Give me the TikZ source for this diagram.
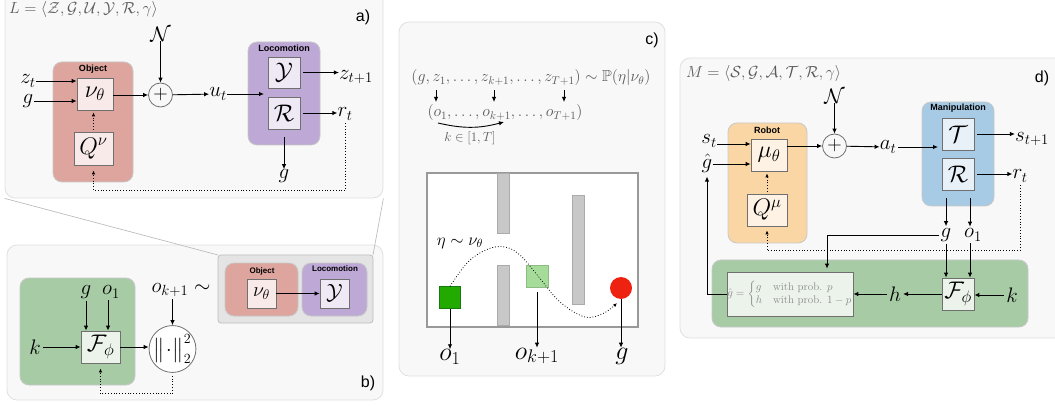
\RequirePackage{fix-cm}
\documentclass[tikz,border=0pt]{standalone}
\usepackage{amsmath,amssymb}
\usepackage{fontspec}
\newfontfamily\hvf{Liberation Sans}
\usetikzlibrary{arrows.meta,calc}
\newcommand\fsz[1]{\fontsize{#1}{#1}\selectfont}
\definecolor{panelbg}{HTML}{F8F8F8}
\definecolor{panelline}{HTML}{E0E0E0}
\definecolor{grpline}{HTML}{C8C8C8}
\definecolor{innerline}{HTML}{707070}
\definecolor{objfill}{HTML}{DDA59E}
\definecolor{objin}{HTML}{F7EAE8}
\definecolor{locofill}{HTML}{BEA8D5}
\definecolor{locoin}{HTML}{EEE9F5}
\definecolor{robfill}{HTML}{F9D6A3}
\definecolor{robin}{HTML}{FDF2E4}
\definecolor{manfill}{HTML}{A7CAE5}
\definecolor{manin}{HTML}{E9F1F8}
\definecolor{grnfill}{HTML}{A7CCA5}
\definecolor{grnin}{HTML}{EBF3EA}
\definecolor{insetbg}{HTML}{E4E4E4}
\definecolor{insetline}{HTML}{BDBDBD}
\definecolor{txtgray}{HTML}{5A5A5A}
\definecolor{roomline}{HTML}{999999}
\definecolor{wallfill}{HTML}{C8C8C8}
\definecolor{wallline}{HTML}{ABABAB}
\definecolor{dkgreen}{HTML}{22AA00}
\definecolor{dkgreenline}{HTML}{157A10}
\definecolor{ltgreen}{HTML}{A6DC9A}
\definecolor{redball}{HTML}{EE2211}
\begin{document}
\begin{tikzpicture}[x=1pt,y=-1pt,
  panel/.style={draw=panelline, fill=panelbg, rounded corners=10pt, line width=0.8pt, inner sep=0pt},
  grp/.style={draw=grpline, rounded corners=9pt, line width=0.8pt, inner sep=0pt},
  ibox/.style={draw=innerline, line width=0.8pt, inner sep=0pt},
  lab/.style={font=\fsz{21}, inner sep=0pt},
  blab/.style={font=\fsz{24}},
  gtitle/.style={font=\hvf\bfseries\fsz{9}, inner sep=0pt},
  ptag/.style={font=\hvf\fsz{16}, inner sep=0pt},
  ttl/.style={font=\fsz{16}, text=txtgray, inner sep=0pt},
  arr/.style={-{Latex[length=5pt,width=4.5pt]}, line width=0.9pt},
  darr/.style={dotted, -{Latex[length=4pt,width=3.5pt]}, line width=0.8pt},
  plus/.style={circle, draw=innerline, line width=0.8pt, minimum size=24pt, inner sep=0pt, font=\fsz{20}},
  zoomline/.style={draw=insetline, line width=0.7pt}
]
\useasboundingbox (0,0) rectangle (1055,406);

% ================= panel a =================
\node[panel, minimum width=378pt, minimum height=210pt] (pa) at (194,93) {};
\node[ttl, anchor=west] (La) at (9,10) {$L=\langle\mathcal{Z},\mathcal{G},\mathcal{U},\mathcal{Y},\mathcal{R},\gamma\rangle$};
\node[ptag] (atag) at (363,17) {a)};
\node[grp, fill=objfill, minimum width=80pt, minimum height=120pt] (obj) at (93,122) {};
\node[gtitle] (objt) at (93,69) {Object};
\node[ibox, fill=objin, minimum width=36pt, minimum height=32pt, blab] (nu) at (95,94) {$\nu_\theta$};
\node[ibox, fill=objin, minimum width=39pt, minimum height=33pt, blab] (Qnu) at (93.5,148.5) {$Q^\nu$};
\node[lab] (zt) at (28,81) {$z_t$};
\node[lab] (ga) at (28,101) {$g$};
\draw[arr] (zt.east) -- (zt.east -| nu.west);
\draw[arr] (ga.east) -- (ga.east -| nu.west);
\node[plus] (pla) at (160.5,95) {$+$};
\node[lab] (Na) at (160.5,34) {$\mathcal{N}$};
\draw[arr] (Na) -- (pla);
\draw[arr] (nu.east |- pla.west) -- (pla.west);
\node[lab] (ut) at (218,94) {$u_t$};
\draw[arr] (pla) -- (ut);
\node[grp, fill=locofill, minimum width=72pt, minimum height=103pt] (loco) at (284,93.5) {};
\node[gtitle] (locot) at (284,48) {Locomotion};
\node[ibox, fill=locoin, minimum width=32pt, minimum height=31pt, blab] (Ya) at (284,72.5) {$\mathcal{Y}$};
\node[ibox, fill=locoin, minimum width=32pt, minimum height=32pt, blab] (Ra) at (284,113) {$\mathcal{R}$};
\coordinate (lina) at (264,94);
\draw[arr] (ut.east) -- (lina);
\node[lab] (zt1) at (356,77) {$z_{t+1}$};
\draw[arr, shorten <=3pt] (Ya.east) -- (Ya.east -| zt1.west);
\node[lab] (rta) at (345,114) {$r_t$};
\draw[arr, shorten <=3pt] (Ra.east) -- (Ra.east -| rta.west);
\node[lab] (gla) at (284,176) {$g$};
\draw[arr, shorten <=8pt] (Ra.south) -- (gla.north);
\draw[darr, shorten >=5pt, shorten <=3pt] (rta.south) |- ($(Qnu.south)+(0,25)$) -- (Qnu.south);
\draw[darr, shorten <=2pt, shorten >=2pt] (Qnu.north) -- (Qnu.north |- nu.south);

% ================= panel b =================
\node[panel, minimum width=376pt, minimum height=155pt] (pb) at (195,322.5) {};
\draw[zoomline] (pa.south west) -- (218,255) coordinate (insnw);
\draw[zoomline] (pa.south east) -- (373,255) coordinate (insne);
\node[grp, fill=grnfill, minimum width=115pt, minimum height=107pt] (grb) at (77.5,331.5) {};
\node[ibox, fill=grnin, minimum width=39pt, minimum height=32pt, blab] (Fb) at (100.5,347) {$\mathcal{F}_\phi$};
\node[lab] (gb) at (86,292) {$g$};
\node[lab] (o1b) at (111,292) {$o_1$};
\draw[arr, shorten <=2pt] (gb.south) -- (gb.south |- Fb.north);
\draw[arr, shorten <=2pt] ([xshift=-3pt]o1b.south) -- ([xshift=-3pt]o1b.south |- Fb.north);
\node[lab] (kb) at (35,347) {$k$};
\draw[arr, shorten <=2pt] (kb.east) -- (Fb.west);
\node[circle, draw=innerline, line width=0.8pt, fill=white, minimum size=41pt, inner sep=0pt, font=\fsz{20}] (norm) at (172.5,349) {$\big\|\!\cdot\!\big\|_2^2$};
\node[lab] (okb) at (181,290) {$o_{k+1}\sim$};
\draw[arr, shorten <=2pt] (okb.south -| norm.north) -- (norm.north);
\draw[arr] (Fb.east) -- (Fb.east -| norm.west);
\draw[darr, shorten >=5pt, shorten <=3pt] (norm.south) |- ($(Fb.south)+(0,30)$) -- (Fb.south);
\node[ptag] (btag) at (368,383) {b)};

% inset
\node[draw=insetline, fill=insetbg, line width=0.7pt, rounded corners=3pt, minimum width=155pt, minimum height=68pt, inner sep=0pt] (ins) at (295.5,289) {};
\node[grp, fill=objfill, minimum width=73pt, minimum height=53pt] (iobj) at (261.5,289.5) {};
\node[gtitle, font=\hvf\bfseries\fsz{8}] (iobjt) at (262,271) {Object};
\node[ibox, fill=objin, minimum width=29pt, minimum height=29pt, font=\fsz{20}] (inu) at (261.5,293.5) {$\nu_\theta$};
\node[grp, fill=locofill, minimum width=65pt, minimum height=53pt] (iloco) at (334.5,289.5) {};
\node[gtitle, font=\hvf\bfseries\fsz{8}] (ilocot) at (335,269) {Locomotion};
\node[ibox, fill=locoin, minimum width=29pt, minimum height=29pt, font=\fsz{22}] (iY) at (334.5,293.5) {$\mathcal{Y}$};
\draw[arr] (inu.east) -- (iY.west);

% ================= panel c =================
\node[panel, minimum width=266pt, minimum height=354pt] (pc) at (532,199) {};
\node[ptag] (ctag) at (652,40) {c)};
\node[ttl] (cf1) at (531,78) {$(g,z_1,\ldots,z_{k+1},\ldots,z_{T+1})\sim\mathbb{P}(\eta|\nu_\theta)$};
\node[ttl] (cf2) at (505,113) {$(o_1,\ldots,o_{k+1},\ldots,o_{T+1})$};
\coordinate (ca1) at (436,90); \coordinate (cb1) at (436,102);
\coordinate (ca2) at (494,90); \coordinate (cb2) at (494,102);
\coordinate (ca3) at (564,90); \coordinate (cb3) at (564,102);
\draw[arr] (ca1) -- (cb1);
\draw[arr] (ca2) -- (cb2);
\draw[arr] (ca3) -- (cb3);
\coordinate (kc1) at (438,123); \coordinate (kc2) at (504,122);
\draw[arr] (kc1) to[bend right=14] (kc2);
\node[ttl, font=\fsz{13}] (krange) at (470,138) {$k\in[1,T]$};
\node[draw=roomline, line width=2.5pt, fill=white, minimum width=211pt, minimum height=154pt, inner sep=0pt] (room) at (532.5,250) {};
\node[draw=wallline, fill=wallfill, line width=0.8pt, minimum width=12pt, minimum height=60pt, inner sep=0pt] (w1) at (503,203) {};
\node[draw=wallline, fill=wallfill, line width=0.8pt, minimum width=12pt, minimum height=60pt, inner sep=0pt] (w2) at (503,295) {};
\node[draw=wallline, fill=wallfill, line width=0.8pt, minimum width=12pt, minimum height=109pt, inner sep=0pt] (w3) at (578,249.5) {};
\node[draw=ltgreen!85!black, fill=ltgreen, line width=0.5pt, minimum size=22pt, inner sep=0pt] (lsq) at (537,276) {};
\node[draw=dkgreenline, fill=dkgreen, line width=0.8pt, minimum size=21.5pt, inner sep=0pt] (gsq) at (450,297.5) {};
\node[circle, fill=redball, minimum size=22pt, inner sep=0pt] (ball) at (621,288) {};
\node[font=\fsz{17}, inner sep=0pt] (eta) at (460,243) {$\eta\sim\nu_\theta$};
\draw[darr] plot[smooth, tension=0.6] coordinates {(gsq.north) (468,262) (488,249) (505,247) (520,255) (538,276) (560,302) (585,317) (604,313) (617,303)};
\node[font=\fsz{26}, inner sep=0pt] (o1c) at (450,357) {$o_1$};
\node[font=\fsz{26}, inner sep=0pt] (okc) at (537,356) {$o_{k+1}$};
\node[font=\fsz{26}, inner sep=0pt] (gc) at (622,356) {$g$};
\draw[arr] (gsq.south) -- (o1c.north -| gsq.south);
\draw[arr, shorten <=5pt] (lsq.south) -- (okc.north -| lsq.south);
\draw[arr] (ball.south) -- (gc.north -| ball.south);

% ================= panel d =================
\node[panel, minimum width=385pt, minimum height=280pt] (pd) at (872.5,198) {};
\node[ttl, anchor=west] (Md) at (686,74) {$M=\langle\mathcal{S},\mathcal{G},\mathcal{A},\mathcal{T},\mathcal{R},\gamma\rangle$};
\node[ptag] (dtag) at (1042,78) {d)};
\node[grp, fill=robfill, minimum width=79pt, minimum height=120pt] (rob) at (767.5,183) {};
\node[gtitle] (robt) at (767,130) {Robot};
\node[ibox, fill=robin, minimum width=36pt, minimum height=32pt, blab] (mu) at (769,155) {$\mu_\theta$};
\node[ibox, fill=robin, minimum width=40pt, minimum height=32pt, blab] (Qmu) at (767,210) {$Q^\mu$};
\node[lab] (st) at (709,141) {$s_t$};
\node[lab] (gh) at (707,163) {$\hat g$};
\draw[arr] (st.east |- 0,144) -- (mu.west |- 0,144);
\draw[arr] (gh.east |- 0,164) -- (mu.west |- 0,164);
\node[plus] (pld) at (834.5,146) {$+$};
\node[lab] (Nd) at (834.5,96) {$\mathcal{N}$};
\draw[arr] (Nd) -- (pld);
\draw[arr] (mu.east |- pld.west) -- (pld.west);
\node[lab] (at) at (888,147) {$a_t$};
\draw[arr] (pld) -- (at);
\node[grp, fill=manfill, minimum width=72pt, minimum height=104pt] (man) at (958,154) {};
\node[gtitle] (mant) at (958,108) {Manipulation};
\node[ibox, fill=manin, minimum width=32pt, minimum height=32pt, blab] (Td) at (958,134) {$\mathcal{T}$};
\node[ibox, fill=manin, minimum width=32pt, minimum height=32pt, blab] (Rd) at (958,174) {$\mathcal{R}$};
\coordinate (mind) at (938,147);
\draw[arr, shorten <=2pt] (at.east) -- (mind);
\node[lab] (st1) at (1032,139) {$s_{t+1}$};
\draw[arr, shorten <=3pt] (Td.east) -- (Td.east -| st1.west);
\node[lab] (rtd) at (1020,176) {$r_t$};
\draw[arr, shorten <=3pt] (Rd.east) -- (Rd.east -| rtd.west);
\node[lab] (gd) at (946,235) {$g$};
\node[lab] (o1d) at (973,235) {$o_1$};
\draw[arr, shorten <=8pt, shorten >=2pt] (gd.north |- Rd.south) -- (gd.north);
\draw[arr, shorten <=8pt, shorten >=2pt] ([xshift=-3pt]o1d.north |- Rd.south) -- ([xshift=-3pt]o1d.north);
\draw[darr, shorten >=4pt, shorten <=3pt] (rtd.south) |- ($(Qmu.south)+(0,24)$) -- (Qmu.south);
\draw[darr, shorten <=2pt, shorten >=2pt] (Qmu.north) -- (Qmu.north |- mu.south);
\node[grp, fill=grnfill, minimum width=316pt, minimum height=67pt] (grd) at (870,293.5) {};
\node[ibox, fill=grnin, minimum width=126pt, minimum height=44pt, font=\fsz{11}, text=black!45] (ghbox) at (790,294) {$\hat g=\begin{cases} g & \text{with prob. } p\\ h & \text{with prob. } 1-p\end{cases}$};
\node[ibox, fill=grnin, minimum width=32pt, minimum height=32pt, blab] (Fd) at (958,294) {$\mathcal{F}_\phi$};
\node[lab] (kd) at (1012,295) {$k$};
\node[lab] (hd) at (895,294) {$h$};
\draw[arr, shorten <=2pt] (kd.west) -- (kd.west -| Fd.east);
\draw[arr, shorten >=2pt] (Fd.west) -- (Fd.west -| hd.east);
\draw[arr, shorten <=2pt] (hd.west) -- (hd.west -| ghbox.east);
\draw[arr, shorten <=2pt] (gd.south) -- (gd.south |- Fd.north);
\draw[arr, shorten <=2pt] ([xshift=-3pt]o1d.south) -- ([xshift=-3pt]o1d.south |- Fd.north);
\draw[arr, shorten >=3pt, shorten <=2pt] (gd.west) -| ([xshift=37pt]ghbox.north);
\draw[arr, shorten >=4pt] (ghbox.west) -| (gh.south);
\end{tikzpicture}
\end{document}
